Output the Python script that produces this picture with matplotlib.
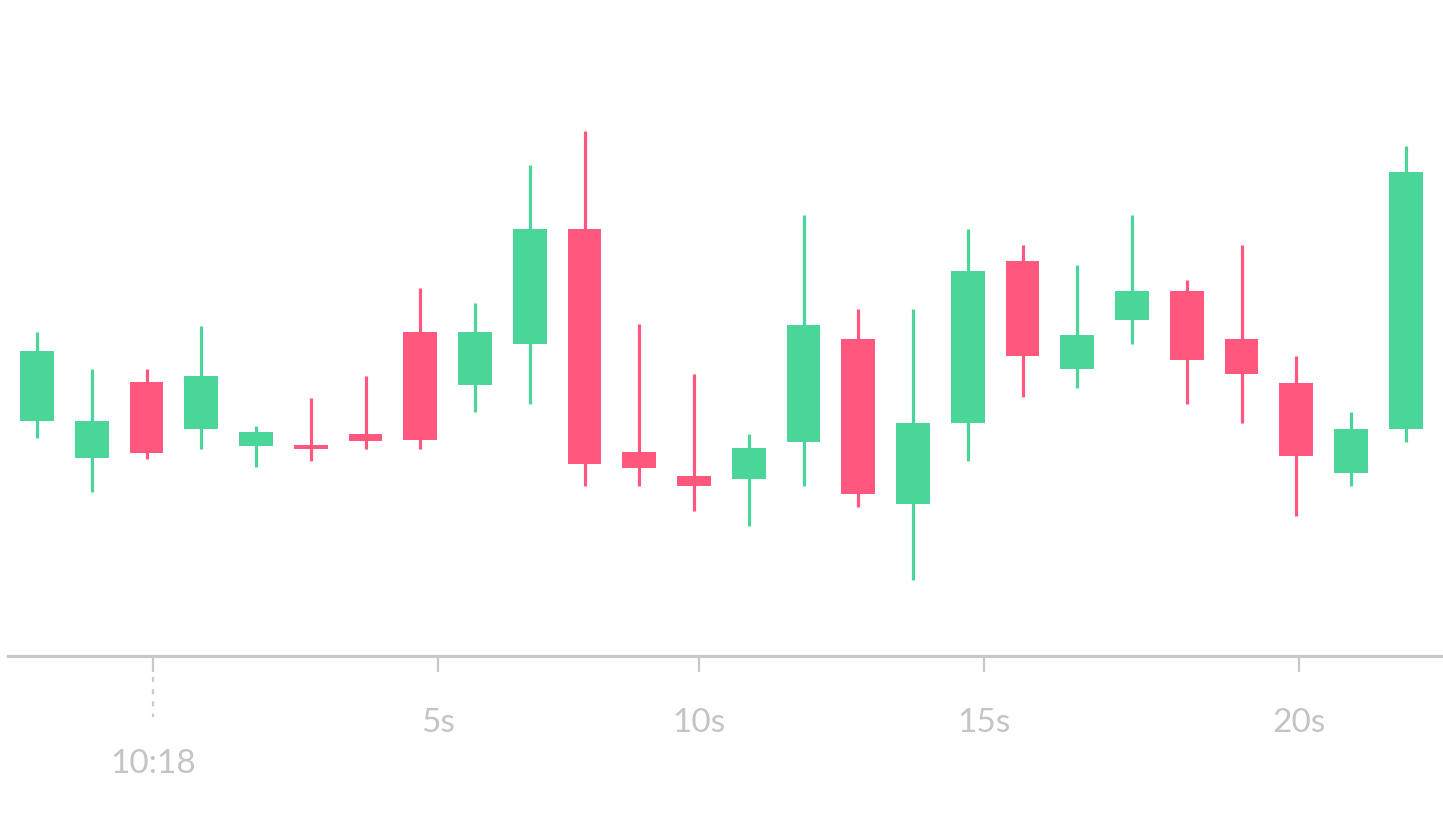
import numpy as np
import matplotlib.pyplot as plt
from matplotlib.transforms import blended_transform_factory

# candle data (price units)
opens = [23.5, 19.8, 27.4, 22.7, 21.0, 21.1, 22.2, 32.4, 27.1, 31.2, 42.7, 20.4, 18.0,
         17.7, 21.4, 31.7, 15.2, 23.3, 39.5, 28.7, 33.6, 36.5, 31.7, 27.3, 18.3, 22.7]
highs = [32.4, 28.7, 28.7, 33.0, 23.0, 25.8, 28.0, 36.8, 35.3, 49.1, 52.5, 33.2, 28.2,
         22.2, 44.1, 34.7, 34.7, 42.7, 41.1, 39.1, 44.1, 37.6, 41.1, 30.0, 24.4, 51.0]
lows = [21.8, 16.4, 19.7, 20.7, 18.9, 19.5, 20.7, 20.7, 24.4, 25.2, 17.0, 17.0, 14.5,
        13.0, 17.0, 14.9, 7.6, 19.5, 25.9, 26.8, 31.2, 25.2, 23.3, 14.0, 17.0, 21.4]
closes = [30.5, 23.5, 20.3, 28.0, 22.4, 20.7, 21.5, 21.6, 32.4, 42.7, 19.2, 18.8, 17.0,
          20.8, 33.1, 16.2, 23.3, 38.5, 30.0, 32.1, 36.5, 29.6, 28.2, 20.0, 22.7, 48.4]

tick_pos = [2.12, 7.33, 12.09, 17.29, 23.05]
tick_labels = ['10:18', '5s', '10s', '15s', '20s']

UP = '#4AD699'
DOWN = '#FF577D'
GREY = '#C8C8C8'
TEXT = '#C4C4C4'

fig = plt.figure(figsize=(14.43, 8.37), dpi=100)
ax = fig.add_axes([8 / 1443, 1 - 657 / 837, 1 - 8 / 1443, 657 / 837])

x = np.arange(len(opens))
o = np.array(opens)
c = np.array(closes)
colors = [UP if cc >= oo else DOWN for oo, cc in zip(o, c)]

ax.vlines(x, lows, highs, colors=colors, linewidth=2.3, zorder=2)
ax.bar(x, np.maximum(np.abs(c - o), 0.4), bottom=np.minimum(o, c), width=0.62,
       color=colors, zorder=3)

ax.set_xlim(-0.53, 25.68)
ax.set_ylim(0, 65.7)

for s in ['top', 'right', 'left']:
    ax.spines[s].set_visible(False)
ax.spines['bottom'].set_color(GREY)
ax.spines['bottom'].set_linewidth(2.3)
ax.set_yticks([])
ax.set_xticks(tick_pos)
ax.set_xticklabels([])
ax.tick_params(axis='x', length=11.5, width=1.6, color=GREY)

trans = blended_transform_factory(ax.transData, ax.transAxes)
# dashed extension under the first (minute) tick
ax.plot([tick_pos[0], tick_pos[0]], [-21 / 657, -61 / 657], transform=trans,
        color=GREY, linewidth=1.6, linestyle=(0, (2.2, 3.3)), clip_on=False,
        solid_capstyle='butt', dash_capstyle='butt')

for i, (p, lab) in enumerate(zip(tick_pos, tick_labels)):
    yy = -(764 - 657) / 657 if i == 0 else -(723 - 657) / 657
    ax.text(p, yy, lab, transform=trans, ha='center', va='center',
            fontsize=24, color=TEXT, family=['Lato', 'DejaVu Sans'])

fig.savefig('out.png', dpi=100, facecolor='white')
